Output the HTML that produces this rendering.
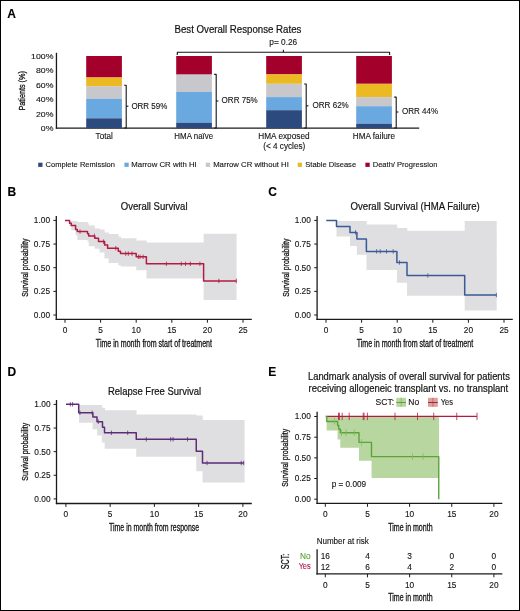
<!DOCTYPE html>
<html><head><meta charset="utf-8"><style>
html,body{margin:0;padding:0;background:#fff;overflow:hidden;width:520px;height:611px;}
svg{display:block;will-change:transform;}
text{font-family:"Liberation Sans", sans-serif;}
</style></head><body>
<svg width="520" height="611" viewBox="0 0 520 611">
<rect x="0" y="0" width="520" height="611" fill="#fff"/>
<text x="7.3" y="17.5" font-size="12" text-anchor="start" fill="#000" font-weight="bold" stroke="#000" stroke-width="0.12">A</text>
<text x="7.6" y="195.6" font-size="12" text-anchor="start" fill="#000" font-weight="bold" stroke="#000" stroke-width="0.12">B</text>
<text x="268.3" y="195.6" font-size="12" text-anchor="start" fill="#000" font-weight="bold" stroke="#000" stroke-width="0.12">C</text>
<text x="7.4" y="375.6" font-size="12" text-anchor="start" fill="#000" font-weight="bold" stroke="#000" stroke-width="0.12">D</text>
<text x="268.3" y="375.6" font-size="12" text-anchor="start" fill="#000" font-weight="bold" stroke="#000" stroke-width="0.12">E</text>
<text x="174.51" y="32.6" font-size="10.0" text-anchor="start" fill="#141414" font-weight="normal" textLength="126.84" lengthAdjust="spacingAndGlyphs" stroke="#141414" stroke-width="0.2">Best Overall Response Rates</text>
<text x="269.27" y="45.1" font-size="8.5" text-anchor="start" fill="#141414" font-weight="normal" textLength="27.9" lengthAdjust="spacingAndGlyphs" stroke="#141414" stroke-width="0.12">p= 0.26</text>
<path d="M177.3,55 V52.2 H389.6 V55" stroke="#141414" fill="none" stroke-width="1.1" stroke-linejoin="round" />
<line x1="283.4" y1="52.2" x2="283.4" y2="49.8" stroke="#141414" stroke-width="1.1"/>
<line x1="56.45" y1="52.8" x2="56.45" y2="128.75" stroke="#1a1a1a" stroke-width="1.3"/>
<line x1="55.8" y1="128.1" x2="419.2" y2="128.1" stroke="#1a1a1a" stroke-width="1.3"/>
<text x="31.09" y="58.9" font-size="7.9" text-anchor="start" fill="#141414" font-weight="normal" textLength="22.32" lengthAdjust="spacingAndGlyphs" stroke="#141414" stroke-width="0.12">100%</text>
<text x="35.94" y="73.32" font-size="7.9" text-anchor="start" fill="#141414" font-weight="normal" textLength="17.47" lengthAdjust="spacingAndGlyphs" stroke="#141414" stroke-width="0.12">80%</text>
<text x="35.94" y="87.74" font-size="7.9" text-anchor="start" fill="#141414" font-weight="normal" textLength="17.47" lengthAdjust="spacingAndGlyphs" stroke="#141414" stroke-width="0.12">60%</text>
<text x="35.94" y="102.16" font-size="7.9" text-anchor="start" fill="#141414" font-weight="normal" textLength="17.47" lengthAdjust="spacingAndGlyphs" stroke="#141414" stroke-width="0.12">40%</text>
<text x="35.94" y="116.58" font-size="7.9" text-anchor="start" fill="#141414" font-weight="normal" textLength="17.47" lengthAdjust="spacingAndGlyphs" stroke="#141414" stroke-width="0.12">20%</text>
<text x="40.79" y="131.0" font-size="7.9" text-anchor="start" fill="#141414" font-weight="normal" textLength="12.62" lengthAdjust="spacingAndGlyphs" stroke="#141414" stroke-width="0.12">0%</text>
<text x="-0.59" y="0" font-size="9.8" fill="#141414" textLength="39.45" lengthAdjust="spacingAndGlyphs" stroke="#141414" stroke-width="0.3" transform="translate(25.2,110.0) rotate(-90)">Patients (%)</text>
<rect x="86.2" y="56" width="35.7" height="21.5" fill="#a3002b"/>
<rect x="86.2" y="77.5" width="35.7" height="8.700000000000003" fill="#ebb922"/>
<rect x="86.2" y="86.2" width="35.7" height="12.5" fill="#c8c7cc"/>
<rect x="86.2" y="98.7" width="35.7" height="19.599999999999994" fill="#6aa9e0"/>
<rect x="86.2" y="118.3" width="35.7" height="9.700000000000003" fill="#2c4a7e"/>
<rect x="176.2" y="56" width="35.7" height="18.599999999999994" fill="#a3002b"/>
<rect x="176.2" y="74.6" width="35.7" height="17.30000000000001" fill="#c8c7cc"/>
<rect x="176.2" y="91.9" width="35.7" height="30.799999999999997" fill="#6aa9e0"/>
<rect x="176.2" y="122.7" width="35.7" height="5.299999999999997" fill="#2c4a7e"/>
<rect x="266.2" y="56" width="35.7" height="18.400000000000006" fill="#a3002b"/>
<rect x="266.2" y="74.4" width="35.7" height="9.399999999999991" fill="#ebb922"/>
<rect x="266.2" y="83.8" width="35.7" height="13.299999999999997" fill="#c8c7cc"/>
<rect x="266.2" y="97.1" width="35.7" height="13.100000000000009" fill="#6aa9e0"/>
<rect x="266.2" y="110.2" width="35.7" height="17.799999999999997" fill="#2c4a7e"/>
<rect x="356.2" y="56" width="35.7" height="27.799999999999997" fill="#a3002b"/>
<rect x="356.2" y="83.8" width="35.7" height="13.299999999999997" fill="#ebb922"/>
<rect x="356.2" y="97.1" width="35.7" height="9.100000000000009" fill="#c8c7cc"/>
<rect x="356.2" y="106.2" width="35.7" height="17.5" fill="#6aa9e0"/>
<rect x="356.2" y="123.7" width="35.7" height="4.299999999999997" fill="#2c4a7e"/>
<path d="M124.2,85.2 H126.2 V128 H124.2" stroke="#141414" fill="none" stroke-width="1.1" stroke-linejoin="round" />
<line x1="126.2" y1="106.2" x2="128.4" y2="106.2" stroke="#141414" stroke-width="1.1"/>
<text x="131.43" y="108.60000000000001" font-size="8.3" text-anchor="start" fill="#141414" font-weight="normal" textLength="35.86" lengthAdjust="spacingAndGlyphs" stroke="#141414" stroke-width="0.12">ORR 59%</text>
<path d="M214.2,74.4 H216.2 V128 H214.2" stroke="#141414" fill="none" stroke-width="1.1" stroke-linejoin="round" />
<line x1="216.2" y1="101" x2="218.39999999999998" y2="101" stroke="#141414" stroke-width="1.1"/>
<text x="221.62" y="103.4" font-size="8.3" text-anchor="start" fill="#141414" font-weight="normal" textLength="36.16" lengthAdjust="spacingAndGlyphs" stroke="#141414" stroke-width="0.12">ORR 75%</text>
<path d="M304.2,84 H306.2 V128 H304.2" stroke="#141414" fill="none" stroke-width="1.1" stroke-linejoin="round" />
<line x1="306.2" y1="105.8" x2="308.4" y2="105.8" stroke="#141414" stroke-width="1.1"/>
<text x="312.52" y="108.2" font-size="8.3" text-anchor="start" fill="#141414" font-weight="normal" textLength="36.26" lengthAdjust="spacingAndGlyphs" stroke="#141414" stroke-width="0.12">ORR 62%</text>
<path d="M394.2,97.1 H396.2 V128 H394.2" stroke="#141414" fill="none" stroke-width="1.1" stroke-linejoin="round" />
<line x1="396.2" y1="112" x2="398.4" y2="112" stroke="#141414" stroke-width="1.1"/>
<text x="401.92" y="114.4" font-size="8.3" text-anchor="start" fill="#141414" font-weight="normal" textLength="36.26" lengthAdjust="spacingAndGlyphs" stroke="#141414" stroke-width="0.12">ORR 44%</text>
<text x="95.62" y="138.7" font-size="8.4" text-anchor="start" fill="#141414" font-weight="normal" textLength="17.12" lengthAdjust="spacingAndGlyphs" stroke="#141414" stroke-width="0.12">Total</text>
<text x="174.35" y="138.7" font-size="8.4" text-anchor="start" fill="#141414" font-weight="normal" textLength="38.8" lengthAdjust="spacingAndGlyphs" stroke="#141414" stroke-width="0.12">HMA na&#239;ve</text>
<text x="258.33" y="138.7" font-size="8.4" text-anchor="start" fill="#141414" font-weight="normal" textLength="51.21" lengthAdjust="spacingAndGlyphs" stroke="#141414" stroke-width="0.12">HMA exposed</text>
<text x="263.19" y="149.1" font-size="8.4" text-anchor="start" fill="#141414" font-weight="normal" textLength="42.12" lengthAdjust="spacingAndGlyphs" stroke="#141414" stroke-width="0.12">(&lt; 4 cycles)</text>
<text x="352.73" y="138.7" font-size="8.4" text-anchor="start" fill="#141414" font-weight="normal" textLength="42.34" lengthAdjust="spacingAndGlyphs" stroke="#141414" stroke-width="0.12">HMA failure</text>
<rect x="38.2" y="162.7" width="4.3" height="4.2" fill="#2c4a7e"/>
<text x="45.62" y="167.2" font-size="8.1" text-anchor="start" fill="#141414" font-weight="normal" textLength="69.38" lengthAdjust="spacingAndGlyphs" stroke="#141414" stroke-width="0.12">Complete Remission</text>
<rect x="124.4" y="162.7" width="4.3" height="4.2" fill="#6aa9e0"/>
<text x="131.36" y="167.2" font-size="8.1" text-anchor="start" fill="#141414" font-weight="normal" textLength="65.35" lengthAdjust="spacingAndGlyphs" stroke="#141414" stroke-width="0.12">Marrow CR with HI</text>
<rect x="205.8" y="162.7" width="4.3" height="4.2" fill="#c8c7cc"/>
<text x="213.17" y="167.2" font-size="8.1" text-anchor="start" fill="#141414" font-weight="normal" textLength="75.64" lengthAdjust="spacingAndGlyphs" stroke="#141414" stroke-width="0.12">Marrow CR without HI</text>
<rect x="297.7" y="162.7" width="4.3" height="4.2" fill="#ebb922"/>
<text x="305.26" y="167.2" font-size="8.1" text-anchor="start" fill="#141414" font-weight="normal" textLength="50.87" lengthAdjust="spacingAndGlyphs" stroke="#141414" stroke-width="0.12">Stable Disease</text>
<rect x="365.4" y="162.7" width="4.3" height="4.2" fill="#a3002b"/>
<text x="372.68" y="167.2" font-size="8.1" text-anchor="start" fill="#141414" font-weight="normal" textLength="64.71" lengthAdjust="spacingAndGlyphs" stroke="#141414" stroke-width="0.12">Death/ Progression</text>
<text x="120.75" y="210.4" font-size="10.0" text-anchor="start" fill="#141414" font-weight="normal" textLength="66.79" lengthAdjust="spacingAndGlyphs" stroke="#141414" stroke-width="0.2">Overall Survival</text>
<text x="-0.31" y="0" font-size="9.9" fill="#141414" textLength="58.22" lengthAdjust="spacingAndGlyphs" stroke="#141414" stroke-width="0.3" transform="translate(27.6,296.5) rotate(-90)">Survival probability</text>
<text x="95.84" y="347.3" font-size="10.0" text-anchor="start" fill="#141414" font-weight="normal" textLength="116.2" lengthAdjust="spacingAndGlyphs" stroke="#141414" stroke-width="0.3">Time in month from start of treatment</text>
<path d="M69.4,220.9H71.6V226.5H69.4ZM71.3,220.9H75.89999999999999V230.3H71.3ZM75.6,220.9H77.6V235.3H75.6ZM77.3,222H87.8V239.9H77.3ZM87.5,223.5H89.0V241.5H87.5ZM88.7,225.5H94.89999999999999V246.3H88.7ZM94.6,228.4H99.89999999999999V248.8H94.6ZM99.6,229.6H104.7V252.6H99.6ZM104.4,232.4H108.89999999999999V258.5H104.4ZM108.6,234H118.6V263H108.6ZM118.3,236.5H120.89999999999999V265.3H118.3ZM120.6,238.2H136.5V266.5H120.6ZM136.2,240.5H146.70000000000002V270.3H136.2ZM146.4,242.6H203.9V278.6H146.4ZM203.6,233.75H236.60000000000002V300H203.6Z" fill="#dfdfe2"/>
<line x1="56.3" y1="216" x2="56.3" y2="319.95" stroke="#1a1a1a" stroke-width="1.3"/>
<line x1="55.65" y1="319.3" x2="251.8" y2="319.3" stroke="#1a1a1a" stroke-width="1.3"/>
<line x1="53.4" y1="220.4" x2="56.3" y2="220.4" stroke="#1a1a1a" stroke-width="1.0"/>
<text x="33.87" y="223.35" font-size="8.3" text-anchor="start" fill="#141414" font-weight="normal" textLength="16.16" lengthAdjust="spacingAndGlyphs" stroke="#141414" stroke-width="0.12">1.00</text>
<line x1="53.4" y1="244.05" x2="56.3" y2="244.05" stroke="#1a1a1a" stroke-width="1.0"/>
<text x="33.89" y="247.0" font-size="8.3" text-anchor="start" fill="#141414" font-weight="normal" textLength="16.16" lengthAdjust="spacingAndGlyphs" stroke="#141414" stroke-width="0.12">0.75</text>
<line x1="53.4" y1="267.7" x2="56.3" y2="267.7" stroke="#1a1a1a" stroke-width="1.0"/>
<text x="33.87" y="270.65" font-size="8.3" text-anchor="start" fill="#141414" font-weight="normal" textLength="16.16" lengthAdjust="spacingAndGlyphs" stroke="#141414" stroke-width="0.12">0.50</text>
<line x1="53.4" y1="291.35" x2="56.3" y2="291.35" stroke="#1a1a1a" stroke-width="1.0"/>
<text x="33.89" y="294.3" font-size="8.3" text-anchor="start" fill="#141414" font-weight="normal" textLength="16.16" lengthAdjust="spacingAndGlyphs" stroke="#141414" stroke-width="0.12">0.25</text>
<line x1="53.4" y1="315.0" x2="56.3" y2="315.0" stroke="#1a1a1a" stroke-width="1.0"/>
<text x="33.87" y="317.95" font-size="8.3" text-anchor="start" fill="#141414" font-weight="normal" textLength="16.16" lengthAdjust="spacingAndGlyphs" stroke="#141414" stroke-width="0.12">0.00</text>
<line x1="65.0" y1="319.3" x2="65.0" y2="322.7" stroke="#1a1a1a" stroke-width="1.0"/>
<text x="65.0" y="333.25" font-size="8.3" text-anchor="middle" fill="#141414" font-weight="normal" stroke="#141414" stroke-width="0.12">0</text>
<line x1="100.6" y1="319.3" x2="100.6" y2="322.7" stroke="#1a1a1a" stroke-width="1.0"/>
<text x="100.6" y="333.25" font-size="8.3" text-anchor="middle" fill="#141414" font-weight="normal" stroke="#141414" stroke-width="0.12">5</text>
<line x1="136.2" y1="319.3" x2="136.2" y2="322.7" stroke="#1a1a1a" stroke-width="1.0"/>
<text x="136.2" y="333.25" font-size="8.3" text-anchor="middle" fill="#141414" font-weight="normal" stroke="#141414" stroke-width="0.12">10</text>
<line x1="171.8" y1="319.3" x2="171.8" y2="322.7" stroke="#1a1a1a" stroke-width="1.0"/>
<text x="171.8" y="333.25" font-size="8.3" text-anchor="middle" fill="#141414" font-weight="normal" stroke="#141414" stroke-width="0.12">15</text>
<line x1="207.4" y1="319.3" x2="207.4" y2="322.7" stroke="#1a1a1a" stroke-width="1.0"/>
<text x="207.4" y="333.25" font-size="8.3" text-anchor="middle" fill="#141414" font-weight="normal" stroke="#141414" stroke-width="0.12">20</text>
<line x1="243.0" y1="319.3" x2="243.0" y2="322.7" stroke="#1a1a1a" stroke-width="1.0"/>
<text x="243.0" y="333.25" font-size="8.3" text-anchor="middle" fill="#141414" font-weight="normal" stroke="#141414" stroke-width="0.12">25</text>
<path d="M65.0,220.5 H69.6 V223.2 H71.3 V225.6 H75.6 V229.4 H77.3 V231.6 H87.5 V233.8 H88.7 V235.9 H94.8 V238.3 H98.5 V241.6 H104.6 V245.1 H107.6 V248.2 H118.3 V251.2 H120.5 V253.6 H136.2 V256.8 H146.4 V263.8 H203.6 V280.9 H236.3 V280.9" stroke="#b31b42" fill="none" stroke-width="1.5" stroke-linejoin="round" />
<line x1="80.0" y1="229.4" x2="80.0" y2="233.79999999999998" stroke="#b31b42" stroke-width="0.8"/>
<line x1="94.4" y1="233.70000000000002" x2="94.4" y2="238.1" stroke="#b31b42" stroke-width="0.8"/>
<line x1="103.6" y1="239.4" x2="103.6" y2="243.79999999999998" stroke="#b31b42" stroke-width="0.8"/>
<line x1="115.8" y1="246.0" x2="115.8" y2="250.39999999999998" stroke="#b31b42" stroke-width="0.8"/>
<line x1="125.7" y1="251.4" x2="125.7" y2="255.79999999999998" stroke="#b31b42" stroke-width="0.8"/>
<line x1="128.3" y1="251.4" x2="128.3" y2="255.79999999999998" stroke="#b31b42" stroke-width="0.8"/>
<line x1="132" y1="251.4" x2="132" y2="255.79999999999998" stroke="#b31b42" stroke-width="0.8"/>
<line x1="138.4" y1="254.60000000000002" x2="138.4" y2="259.0" stroke="#b31b42" stroke-width="0.8"/>
<line x1="140" y1="254.60000000000002" x2="140" y2="259.0" stroke="#b31b42" stroke-width="0.8"/>
<line x1="143.1" y1="254.60000000000002" x2="143.1" y2="259.0" stroke="#b31b42" stroke-width="0.8"/>
<line x1="166.4" y1="261.6" x2="166.4" y2="266.0" stroke="#b31b42" stroke-width="0.8"/>
<line x1="181.3" y1="261.6" x2="181.3" y2="266.0" stroke="#b31b42" stroke-width="0.8"/>
<line x1="185.5" y1="261.6" x2="185.5" y2="266.0" stroke="#b31b42" stroke-width="0.8"/>
<line x1="190.3" y1="261.6" x2="190.3" y2="266.0" stroke="#b31b42" stroke-width="0.8"/>
<line x1="199.9" y1="261.6" x2="199.9" y2="266.0" stroke="#b31b42" stroke-width="0.8"/>
<line x1="218.9" y1="278.7" x2="218.9" y2="283.09999999999997" stroke="#b31b42" stroke-width="0.8"/>
<line x1="236.3" y1="278.7" x2="236.3" y2="283.09999999999997" stroke="#b31b42" stroke-width="0.8"/>
<text x="350.55" y="210.4" font-size="10.0" text-anchor="start" fill="#141414" font-weight="normal" textLength="129.25" lengthAdjust="spacingAndGlyphs" stroke="#141414" stroke-width="0.2">Overall Survival (HMA Failure)</text>
<text x="-0.31" y="0" font-size="9.9" fill="#141414" textLength="58.22" lengthAdjust="spacingAndGlyphs" stroke="#141414" stroke-width="0.3" transform="translate(288.5,296.5) rotate(-90)">Survival probability</text>
<text x="356.64" y="347.0" font-size="10.0" text-anchor="start" fill="#141414" font-weight="normal" textLength="116.6" lengthAdjust="spacingAndGlyphs" stroke="#141414" stroke-width="0.3">Time in month from start of treatment</text>
<path d="M336.5,220.9H350.3V236.5H336.5ZM350,220.9H357.2V246H350ZM356.9,220.9H366.8V254.7H356.9ZM366.5,224.6H397.2V270H366.5ZM396.9,227.9H407.3V282.7H396.9ZM407,230.8H465.0V295.7H407ZM464.7,221H496.7V310.4H464.7Z" fill="#dfdfe2"/>
<line x1="317.1" y1="216" x2="317.1" y2="319.95" stroke="#1a1a1a" stroke-width="1.3"/>
<line x1="316.45000000000005" y1="319.3" x2="512.8" y2="319.3" stroke="#1a1a1a" stroke-width="1.3"/>
<line x1="314.20000000000005" y1="220.4" x2="317.1" y2="220.4" stroke="#1a1a1a" stroke-width="1.0"/>
<text x="294.67" y="223.35" font-size="8.3" text-anchor="start" fill="#141414" font-weight="normal" textLength="16.16" lengthAdjust="spacingAndGlyphs" stroke="#141414" stroke-width="0.12">1.00</text>
<line x1="314.20000000000005" y1="244.05" x2="317.1" y2="244.05" stroke="#1a1a1a" stroke-width="1.0"/>
<text x="294.69" y="247.0" font-size="8.3" text-anchor="start" fill="#141414" font-weight="normal" textLength="16.16" lengthAdjust="spacingAndGlyphs" stroke="#141414" stroke-width="0.12">0.75</text>
<line x1="314.20000000000005" y1="267.7" x2="317.1" y2="267.7" stroke="#1a1a1a" stroke-width="1.0"/>
<text x="294.67" y="270.65" font-size="8.3" text-anchor="start" fill="#141414" font-weight="normal" textLength="16.16" lengthAdjust="spacingAndGlyphs" stroke="#141414" stroke-width="0.12">0.50</text>
<line x1="314.20000000000005" y1="291.35" x2="317.1" y2="291.35" stroke="#1a1a1a" stroke-width="1.0"/>
<text x="294.69" y="294.3" font-size="8.3" text-anchor="start" fill="#141414" font-weight="normal" textLength="16.16" lengthAdjust="spacingAndGlyphs" stroke="#141414" stroke-width="0.12">0.25</text>
<line x1="314.20000000000005" y1="315.0" x2="317.1" y2="315.0" stroke="#1a1a1a" stroke-width="1.0"/>
<text x="294.67" y="317.95" font-size="8.3" text-anchor="start" fill="#141414" font-weight="normal" textLength="16.16" lengthAdjust="spacingAndGlyphs" stroke="#141414" stroke-width="0.12">0.00</text>
<line x1="326.0" y1="319.3" x2="326.0" y2="322.7" stroke="#1a1a1a" stroke-width="1.0"/>
<text x="326.0" y="333.25" font-size="8.3" text-anchor="middle" fill="#141414" font-weight="normal" stroke="#141414" stroke-width="0.12">0</text>
<line x1="361.6" y1="319.3" x2="361.6" y2="322.7" stroke="#1a1a1a" stroke-width="1.0"/>
<text x="361.6" y="333.25" font-size="8.3" text-anchor="middle" fill="#141414" font-weight="normal" stroke="#141414" stroke-width="0.12">5</text>
<line x1="397.2" y1="319.3" x2="397.2" y2="322.7" stroke="#1a1a1a" stroke-width="1.0"/>
<text x="397.2" y="333.25" font-size="8.3" text-anchor="middle" fill="#141414" font-weight="normal" stroke="#141414" stroke-width="0.12">10</text>
<line x1="432.8" y1="319.3" x2="432.8" y2="322.7" stroke="#1a1a1a" stroke-width="1.0"/>
<text x="432.8" y="333.25" font-size="8.3" text-anchor="middle" fill="#141414" font-weight="normal" stroke="#141414" stroke-width="0.12">15</text>
<line x1="468.4" y1="319.3" x2="468.4" y2="322.7" stroke="#1a1a1a" stroke-width="1.0"/>
<text x="468.4" y="333.25" font-size="8.3" text-anchor="middle" fill="#141414" font-weight="normal" stroke="#141414" stroke-width="0.12">20</text>
<line x1="504.0" y1="319.3" x2="504.0" y2="322.7" stroke="#1a1a1a" stroke-width="1.0"/>
<text x="504.0" y="333.25" font-size="8.3" text-anchor="middle" fill="#141414" font-weight="normal" stroke="#141414" stroke-width="0.12">25</text>
<path d="M326.3,220.4 H336.5 V226.4 H350 V232.4 H356.9 V238.9 H366.4 V251.4 H396.9 V262.5 H407 V275.5 H464.7 V295.1 H496.4 V295.1" stroke="#3a5a97" fill="none" stroke-width="1.5" stroke-linejoin="round" />
<line x1="355.5" y1="230.20000000000002" x2="355.5" y2="234.6" stroke="#3a5a97" stroke-width="0.8"/>
<line x1="366.4" y1="243.3" x2="366.4" y2="247.7" stroke="#3a5a97" stroke-width="0.8"/>
<line x1="376.6" y1="249.20000000000002" x2="376.6" y2="253.6" stroke="#3a5a97" stroke-width="0.8"/>
<line x1="380.2" y1="249.20000000000002" x2="380.2" y2="253.6" stroke="#3a5a97" stroke-width="0.8"/>
<line x1="386.5" y1="249.20000000000002" x2="386.5" y2="253.6" stroke="#3a5a97" stroke-width="0.8"/>
<line x1="393.2" y1="249.20000000000002" x2="393.2" y2="253.6" stroke="#3a5a97" stroke-width="0.8"/>
<line x1="399.5" y1="260.3" x2="399.5" y2="264.7" stroke="#3a5a97" stroke-width="0.8"/>
<line x1="427.8" y1="273.3" x2="427.8" y2="277.7" stroke="#3a5a97" stroke-width="0.8"/>
<line x1="496.4" y1="292.90000000000003" x2="496.4" y2="297.3" stroke="#3a5a97" stroke-width="0.8"/>
<text x="108.02" y="394.7" font-size="10.0" text-anchor="start" fill="#141414" font-weight="normal" textLength="93.11" lengthAdjust="spacingAndGlyphs" stroke="#141414" stroke-width="0.2">Relapse Free Survival</text>
<text x="-0.31" y="0" font-size="9.9" fill="#141414" textLength="57.82" lengthAdjust="spacingAndGlyphs" stroke="#141414" stroke-width="0.3" transform="translate(27.8,480.4) rotate(-90)">Survival probability</text>
<text x="109.05" y="530.8" font-size="10.0" text-anchor="start" fill="#141414" font-weight="normal" textLength="90.06" lengthAdjust="spacingAndGlyphs" stroke="#141414" stroke-width="0.3">Time in month from response</text>
<path d="M79.0,404.9H92.89999999999999V422.8H79.0ZM92.6,404.9H97.5V429.2H92.6ZM97.2,404.9H102.1V435.5H97.2ZM101.8,407.8H105.0V442.4H101.8ZM104.7,410.3H136.55V448.8H104.7ZM136.25,414.5H196.55V456.75H136.25ZM196.25,415.5H202.8V471.25H196.25ZM202.5,420H244.55V482.5H202.5Z" fill="#dfdfe2"/>
<line x1="56.5" y1="400" x2="56.5" y2="504.15" stroke="#1a1a1a" stroke-width="1.3"/>
<line x1="55.85" y1="503.5" x2="251.8" y2="503.5" stroke="#1a1a1a" stroke-width="1.3"/>
<line x1="53.6" y1="404.4" x2="56.5" y2="404.4" stroke="#1a1a1a" stroke-width="1.0"/>
<text x="34.37" y="407.34999999999997" font-size="8.3" text-anchor="start" fill="#141414" font-weight="normal" textLength="16.16" lengthAdjust="spacingAndGlyphs" stroke="#141414" stroke-width="0.12">1.00</text>
<line x1="53.6" y1="428.025" x2="56.5" y2="428.025" stroke="#1a1a1a" stroke-width="1.0"/>
<text x="34.39" y="430.97499999999997" font-size="8.3" text-anchor="start" fill="#141414" font-weight="normal" textLength="16.16" lengthAdjust="spacingAndGlyphs" stroke="#141414" stroke-width="0.12">0.75</text>
<line x1="53.6" y1="451.65" x2="56.5" y2="451.65" stroke="#1a1a1a" stroke-width="1.0"/>
<text x="34.37" y="454.59999999999997" font-size="8.3" text-anchor="start" fill="#141414" font-weight="normal" textLength="16.16" lengthAdjust="spacingAndGlyphs" stroke="#141414" stroke-width="0.12">0.50</text>
<line x1="53.6" y1="475.275" x2="56.5" y2="475.275" stroke="#1a1a1a" stroke-width="1.0"/>
<text x="34.39" y="478.22499999999997" font-size="8.3" text-anchor="start" fill="#141414" font-weight="normal" textLength="16.16" lengthAdjust="spacingAndGlyphs" stroke="#141414" stroke-width="0.12">0.25</text>
<line x1="53.6" y1="498.9" x2="56.5" y2="498.9" stroke="#1a1a1a" stroke-width="1.0"/>
<text x="34.37" y="501.84999999999997" font-size="8.3" text-anchor="start" fill="#141414" font-weight="normal" textLength="16.16" lengthAdjust="spacingAndGlyphs" stroke="#141414" stroke-width="0.12">0.00</text>
<line x1="65.9" y1="503.5" x2="65.9" y2="506.9" stroke="#1a1a1a" stroke-width="1.0"/>
<text x="65.9" y="517.1500000000001" font-size="8.3" text-anchor="middle" fill="#141414" font-weight="normal" stroke="#141414" stroke-width="0.12">0</text>
<line x1="110.15" y1="503.5" x2="110.15" y2="506.9" stroke="#1a1a1a" stroke-width="1.0"/>
<text x="110.15" y="517.1500000000001" font-size="8.3" text-anchor="middle" fill="#141414" font-weight="normal" stroke="#141414" stroke-width="0.12">5</text>
<line x1="154.4" y1="503.5" x2="154.4" y2="506.9" stroke="#1a1a1a" stroke-width="1.0"/>
<text x="154.4" y="517.1500000000001" font-size="8.3" text-anchor="middle" fill="#141414" font-weight="normal" stroke="#141414" stroke-width="0.12">10</text>
<line x1="198.65" y1="503.5" x2="198.65" y2="506.9" stroke="#1a1a1a" stroke-width="1.0"/>
<text x="198.65" y="517.1500000000001" font-size="8.3" text-anchor="middle" fill="#141414" font-weight="normal" stroke="#141414" stroke-width="0.12">15</text>
<line x1="242.9" y1="503.5" x2="242.9" y2="506.9" stroke="#1a1a1a" stroke-width="1.0"/>
<text x="242.9" y="517.1500000000001" font-size="8.3" text-anchor="middle" fill="#141414" font-weight="normal" stroke="#141414" stroke-width="0.12">20</text>
<path d="M66,404.3 H78.7 V412.8 H92.9 V417.1 H97.0 V421.7 H102.5 V427.2 H104.5 V432.8 H136.25 V439.25 H196.25 V451.25 H202.5 V463 H243.75 V463" stroke="#5c2c78" fill="none" stroke-width="1.5" stroke-linejoin="round" />
<line x1="70.3" y1="402.1" x2="70.3" y2="406.5" stroke="#5c2c78" stroke-width="0.8"/>
<line x1="72.6" y1="402.1" x2="72.6" y2="406.5" stroke="#5c2c78" stroke-width="0.8"/>
<line x1="79.9" y1="410.6" x2="79.9" y2="415.0" stroke="#5c2c78" stroke-width="0.8"/>
<line x1="92.2" y1="410.6" x2="92.2" y2="415.0" stroke="#5c2c78" stroke-width="0.8"/>
<line x1="98.3" y1="419.5" x2="98.3" y2="423.9" stroke="#5c2c78" stroke-width="0.8"/>
<line x1="111.4" y1="430.6" x2="111.4" y2="435.0" stroke="#5c2c78" stroke-width="0.8"/>
<line x1="127.7" y1="430.6" x2="127.7" y2="435.0" stroke="#5c2c78" stroke-width="0.8"/>
<line x1="146.25" y1="437.05" x2="146.25" y2="441.45" stroke="#5c2c78" stroke-width="0.8"/>
<line x1="170.7" y1="437.05" x2="170.7" y2="441.45" stroke="#5c2c78" stroke-width="0.8"/>
<line x1="173.1" y1="437.05" x2="173.1" y2="441.45" stroke="#5c2c78" stroke-width="0.8"/>
<line x1="187.5" y1="437.05" x2="187.5" y2="441.45" stroke="#5c2c78" stroke-width="0.8"/>
<line x1="207" y1="460.8" x2="207" y2="465.2" stroke="#5c2c78" stroke-width="0.8"/>
<line x1="241.25" y1="460.8" x2="241.25" y2="465.2" stroke="#5c2c78" stroke-width="0.8"/>
<line x1="243.75" y1="460.8" x2="243.75" y2="465.2" stroke="#5c2c78" stroke-width="0.8"/>
<text x="307.98" y="380.3" font-size="10.0" text-anchor="start" fill="#141414" font-weight="normal" textLength="201.85" lengthAdjust="spacingAndGlyphs" stroke="#141414" stroke-width="0.2">Landmark analysis of overall survival for patients</text>
<text x="308.62" y="392.3" font-size="10.0" text-anchor="start" fill="#141414" font-weight="normal" textLength="199.64" lengthAdjust="spacingAndGlyphs" stroke="#141414" stroke-width="0.2">receiving allogeneic transplant vs. no transplant</text>
<text x="375.61" y="404.8" font-size="8.2" text-anchor="start" fill="#141414" font-weight="normal" textLength="18.57" lengthAdjust="spacingAndGlyphs" stroke="#141414" stroke-width="0.12">SCT:</text>
<rect x="396.3" y="397.8" width="9.7" height="9" fill="#b8d69f"/>
<line x1="401.15" y1="397.8" x2="401.15" y2="406.8" stroke="#5ca33a" stroke-width="1" opacity="0.45"/>
<line x1="396.3" y1="402.5" x2="406" y2="402.5" stroke="#5ca33a" stroke-width="1"/>
<text x="408.3" y="404.8" font-size="8.2" text-anchor="start" fill="#141414" font-weight="normal" textLength="10.86" lengthAdjust="spacingAndGlyphs" stroke="#141414" stroke-width="0.12">No</text>
<rect x="428" y="397.8" width="9.8" height="9" fill="#dba29c"/>
<line x1="432.9" y1="397.8" x2="432.9" y2="406.8" stroke="#b31b42" stroke-width="1" opacity="0.45"/>
<line x1="428" y1="402.5" x2="437.8" y2="402.5" stroke="#b31b42" stroke-width="1"/>
<text x="440.84" y="404.8" font-size="8.2" text-anchor="start" fill="#141414" font-weight="normal" textLength="12.13" lengthAdjust="spacingAndGlyphs" stroke="#141414" stroke-width="0.12">Yes</text>
<text x="-0.31" y="0" font-size="9.9" fill="#141414" textLength="58.02" lengthAdjust="spacingAndGlyphs" stroke="#141414" stroke-width="0.3" transform="translate(287.6,486.5) rotate(-90)">Survival probability</text>
<path d="M326.6,416.5H337.90000000000003V430.4H326.6ZM337.6,416.5H340.6V439.6H337.6ZM340.3,416.5H359.3V447.7H340.3ZM359,416.5H371.90000000000003V460.8H359ZM371.6,416.5H439.05V478.0H371.6Z" fill="#b8d69f"/>
<line x1="317.1" y1="411.7" x2="317.1" y2="504.04999999999995" stroke="#1a1a1a" stroke-width="1.3"/>
<line x1="316.45000000000005" y1="503.4" x2="502.3" y2="503.4" stroke="#1a1a1a" stroke-width="1.3"/>
<line x1="314.20000000000005" y1="416.5" x2="317.1" y2="416.5" stroke="#1a1a1a" stroke-width="1.0"/>
<text x="294.67" y="419.45" font-size="8.3" text-anchor="start" fill="#141414" font-weight="normal" textLength="16.16" lengthAdjust="spacingAndGlyphs" stroke="#141414" stroke-width="0.12">1.00</text>
<line x1="314.20000000000005" y1="437.175" x2="317.1" y2="437.175" stroke="#1a1a1a" stroke-width="1.0"/>
<text x="294.69" y="440.125" font-size="8.3" text-anchor="start" fill="#141414" font-weight="normal" textLength="16.16" lengthAdjust="spacingAndGlyphs" stroke="#141414" stroke-width="0.12">0.75</text>
<line x1="314.20000000000005" y1="457.85" x2="317.1" y2="457.85" stroke="#1a1a1a" stroke-width="1.0"/>
<text x="294.67" y="460.8" font-size="8.3" text-anchor="start" fill="#141414" font-weight="normal" textLength="16.16" lengthAdjust="spacingAndGlyphs" stroke="#141414" stroke-width="0.12">0.50</text>
<line x1="314.20000000000005" y1="478.525" x2="317.1" y2="478.525" stroke="#1a1a1a" stroke-width="1.0"/>
<text x="294.69" y="481.47499999999997" font-size="8.3" text-anchor="start" fill="#141414" font-weight="normal" textLength="16.16" lengthAdjust="spacingAndGlyphs" stroke="#141414" stroke-width="0.12">0.25</text>
<line x1="314.20000000000005" y1="499.2" x2="317.1" y2="499.2" stroke="#1a1a1a" stroke-width="1.0"/>
<text x="294.67" y="502.15" font-size="8.3" text-anchor="start" fill="#141414" font-weight="normal" textLength="16.16" lengthAdjust="spacingAndGlyphs" stroke="#141414" stroke-width="0.12">0.00</text>
<line x1="325.3" y1="503.4" x2="325.3" y2="506.79999999999995" stroke="#1a1a1a" stroke-width="1.0"/>
<text x="325.3" y="517.1500000000001" font-size="8.3" text-anchor="middle" fill="#141414" font-weight="normal" stroke="#141414" stroke-width="0.12">0</text>
<line x1="367.45" y1="503.4" x2="367.45" y2="506.79999999999995" stroke="#1a1a1a" stroke-width="1.0"/>
<text x="367.45" y="517.1500000000001" font-size="8.3" text-anchor="middle" fill="#141414" font-weight="normal" stroke="#141414" stroke-width="0.12">5</text>
<line x1="409.6" y1="503.4" x2="409.6" y2="506.79999999999995" stroke="#1a1a1a" stroke-width="1.0"/>
<text x="409.6" y="517.1500000000001" font-size="8.3" text-anchor="middle" fill="#141414" font-weight="normal" stroke="#141414" stroke-width="0.12">10</text>
<line x1="451.75" y1="503.4" x2="451.75" y2="506.79999999999995" stroke="#1a1a1a" stroke-width="1.0"/>
<text x="451.75" y="517.1500000000001" font-size="8.3" text-anchor="middle" fill="#141414" font-weight="normal" stroke="#141414" stroke-width="0.12">15</text>
<line x1="493.9" y1="503.4" x2="493.9" y2="506.79999999999995" stroke="#1a1a1a" stroke-width="1.0"/>
<text x="493.9" y="517.1500000000001" font-size="8.3" text-anchor="middle" fill="#141414" font-weight="normal" stroke="#141414" stroke-width="0.12">20</text>
<line x1="326.3" y1="416.4" x2="477" y2="416.4" stroke="#b31b42" stroke-width="1.4"/>
<line x1="338.5" y1="412.7" x2="338.5" y2="420.1" stroke="#b31b42" stroke-width="0.8"/>
<line x1="339.4" y1="412.7" x2="339.4" y2="420.1" stroke="#b31b42" stroke-width="0.8"/>
<line x1="342.2" y1="412.7" x2="342.2" y2="420.1" stroke="#b31b42" stroke-width="0.8"/>
<line x1="349.2" y1="412.7" x2="349.2" y2="420.1" stroke="#b31b42" stroke-width="0.8"/>
<line x1="363.2" y1="412.7" x2="363.2" y2="420.1" stroke="#b31b42" stroke-width="0.8"/>
<line x1="364.0" y1="412.7" x2="364.0" y2="420.1" stroke="#b31b42" stroke-width="0.8"/>
<line x1="367.4" y1="412.7" x2="367.4" y2="420.1" stroke="#b31b42" stroke-width="0.8"/>
<line x1="395" y1="412.7" x2="395" y2="420.1" stroke="#b31b42" stroke-width="0.8"/>
<line x1="417.5" y1="412.7" x2="417.5" y2="420.1" stroke="#b31b42" stroke-width="0.8"/>
<line x1="433.75" y1="412.7" x2="433.75" y2="420.1" stroke="#b31b42" stroke-width="0.8"/>
<line x1="456.75" y1="412.7" x2="456.75" y2="420.1" stroke="#b31b42" stroke-width="0.8"/>
<line x1="477" y1="412.7" x2="477" y2="420.1" stroke="#b31b42" stroke-width="0.8"/>
<path d="M325.5,416.5 H326.8 V421.5 H337.6 V425.5 H338.8 V429.3 H340.3 V432.8 H359 V442.4 H371.5 V456.6 H438.75 V499.2" stroke="#5ca33a" fill="none" stroke-width="1.4" stroke-linejoin="round" />
<line x1="334.5" y1="418.3" x2="334.5" y2="424.7" stroke="#7fb865" stroke-width="0.8"/>
<line x1="341.4" y1="429.6" x2="341.4" y2="436.0" stroke="#7fb865" stroke-width="0.8"/>
<line x1="346" y1="429.6" x2="346" y2="436.0" stroke="#7fb865" stroke-width="0.8"/>
<line x1="354.3" y1="429.6" x2="354.3" y2="436.0" stroke="#7fb865" stroke-width="0.8"/>
<line x1="361.6" y1="439.2" x2="361.6" y2="445.59999999999997" stroke="#7fb865" stroke-width="0.8"/>
<line x1="412.5" y1="453.40000000000003" x2="412.5" y2="459.8" stroke="#7fb865" stroke-width="0.8"/>
<line x1="423" y1="453.40000000000003" x2="423" y2="459.8" stroke="#7fb865" stroke-width="0.8"/>
<text x="331.68" y="486.8" font-size="8.3" text-anchor="start" fill="#141414" font-weight="normal" textLength="34.41" lengthAdjust="spacingAndGlyphs" stroke="#141414" stroke-width="0.12">p = 0.009</text>
<text x="388.25" y="530.8" font-size="10.0" text-anchor="start" fill="#141414" font-weight="normal" textLength="44.31" lengthAdjust="spacingAndGlyphs" stroke="#141414" stroke-width="0.3">Time in month</text>
<text x="316.64" y="543.65" font-size="8.2" text-anchor="start" fill="#141414" font-weight="normal" textLength="52.25" lengthAdjust="spacingAndGlyphs" stroke="#141414" stroke-width="0.12">Number at risk</text>
<line x1="317.1" y1="549.2" x2="317.1" y2="574.6" stroke="#1a1a1a" stroke-width="1.3"/>
<line x1="316.45" y1="573.9" x2="502.3" y2="573.9" stroke="#1a1a1a" stroke-width="1.3"/>
<line x1="325.3" y1="573.9" x2="325.3" y2="577.3" stroke="#1a1a1a" stroke-width="1"/>
<text x="325.3" y="558.7" font-size="8.3" text-anchor="middle" fill="#141414" font-weight="normal" stroke="#141414" stroke-width="0.12">16</text>
<text x="325.3" y="569.7" font-size="8.3" text-anchor="middle" fill="#141414" font-weight="normal" stroke="#141414" stroke-width="0.12">12</text>
<text x="325.3" y="587.9" font-size="8.3" text-anchor="middle" fill="#141414" font-weight="normal" stroke="#141414" stroke-width="0.12">0</text>
<line x1="367.45" y1="573.9" x2="367.45" y2="577.3" stroke="#1a1a1a" stroke-width="1"/>
<text x="367.45" y="558.7" font-size="8.3" text-anchor="middle" fill="#141414" font-weight="normal" stroke="#141414" stroke-width="0.12">4</text>
<text x="367.45" y="569.7" font-size="8.3" text-anchor="middle" fill="#141414" font-weight="normal" stroke="#141414" stroke-width="0.12">6</text>
<text x="367.45" y="587.9" font-size="8.3" text-anchor="middle" fill="#141414" font-weight="normal" stroke="#141414" stroke-width="0.12">5</text>
<line x1="409.6" y1="573.9" x2="409.6" y2="577.3" stroke="#1a1a1a" stroke-width="1"/>
<text x="409.6" y="558.7" font-size="8.3" text-anchor="middle" fill="#141414" font-weight="normal" stroke="#141414" stroke-width="0.12">3</text>
<text x="409.6" y="569.7" font-size="8.3" text-anchor="middle" fill="#141414" font-weight="normal" stroke="#141414" stroke-width="0.12">4</text>
<text x="409.6" y="587.9" font-size="8.3" text-anchor="middle" fill="#141414" font-weight="normal" stroke="#141414" stroke-width="0.12">10</text>
<line x1="451.75" y1="573.9" x2="451.75" y2="577.3" stroke="#1a1a1a" stroke-width="1"/>
<text x="451.75" y="558.7" font-size="8.3" text-anchor="middle" fill="#141414" font-weight="normal" stroke="#141414" stroke-width="0.12">0</text>
<text x="451.75" y="569.7" font-size="8.3" text-anchor="middle" fill="#141414" font-weight="normal" stroke="#141414" stroke-width="0.12">2</text>
<text x="451.75" y="587.9" font-size="8.3" text-anchor="middle" fill="#141414" font-weight="normal" stroke="#141414" stroke-width="0.12">15</text>
<line x1="493.9" y1="573.9" x2="493.9" y2="577.3" stroke="#1a1a1a" stroke-width="1"/>
<text x="493.9" y="558.7" font-size="8.3" text-anchor="middle" fill="#141414" font-weight="normal" stroke="#141414" stroke-width="0.12">0</text>
<text x="493.9" y="569.7" font-size="8.3" text-anchor="middle" fill="#141414" font-weight="normal" stroke="#141414" stroke-width="0.12">0</text>
<text x="493.9" y="587.9" font-size="8.3" text-anchor="middle" fill="#141414" font-weight="normal" stroke="#141414" stroke-width="0.12">20</text>
<text x="300.12" y="558.6" font-size="8.4" text-anchor="start" fill="#5ca33a" font-weight="normal" textLength="10.63" lengthAdjust="spacingAndGlyphs" stroke="#5ca33a" stroke-width="0.12">No</text>
<text x="298.64" y="569.1" font-size="8.4" text-anchor="start" fill="#b31b42" font-weight="normal" textLength="12.03" lengthAdjust="spacingAndGlyphs" stroke="#b31b42" stroke-width="0.12">Yes</text>
<text x="-0.32" y="0" font-size="11" fill="#141414" textLength="15.42" lengthAdjust="spacingAndGlyphs" stroke="#141414" stroke-width="0.3" transform="translate(288.85,568.85) rotate(-90)">SCT:</text>
<text x="388.25" y="601.2" font-size="10.0" text-anchor="start" fill="#141414" font-weight="normal" textLength="44.31" lengthAdjust="spacingAndGlyphs" stroke="#141414" stroke-width="0.3">Time in month</text>
<rect x="0.5" y="0.5" width="519" height="610" fill="none" stroke="#000" stroke-width="1"/>
</svg></body></html>
